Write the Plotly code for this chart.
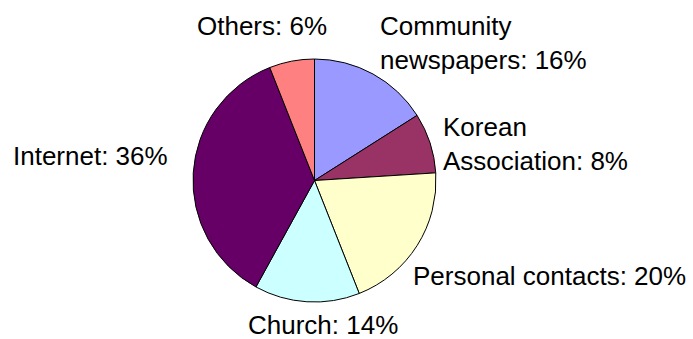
import plotly.graph_objects as go

# Sources of information, share of respondents (%)
sources = ["Community newspapers", "Korean Association", "Personal contacts",
           "Church", "Internet", "Others"]
shares = [16, 8, 20, 14, 36, 6]
label_texts = ["Community<br>newspapers: 16%", "Korean<br>Association: 8%",
               "Personal contacts: 20%", "Church: 14%", "Internet: 36%", "Others: 6%"]

colors = ["#9999FF", "#993366", "#FFFFCC", "#CCFFFF", "#660066", "#FF8080"]

W, H = 693, 339

# label placement in pixels: (x, y, xanchor)
label_layout = [
    (378, 43, "left"),
    (441, 144, "left"),
    (411, 276, "left"),
    (322.5, 325, "center"),
    (11, 156, "left"),
    (261.5, 26, "center"),
]

cx, cy, r = 314.5, 180.5, 121.5

fig = go.Figure(go.Pie(
    labels=sources,
    values=shares,
    sort=False,
    direction="clockwise",
    rotation=0,
    marker=dict(colors=colors, line=dict(color="#000000", width=1)),
    textinfo="none",
    hoverinfo="label+percent",
    showlegend=False,
    domain=dict(x=[(cx - r) / W, (cx + r) / W],
                y=[(H - cy - r) / H, (H - cy + r) / H]),
))

for text, (px, py, xa) in zip(label_texts, label_layout):
    fig.add_annotation(
        x=px / W, y=1 - py / H, xref="paper", yref="paper",
        text=text, showarrow=False, xanchor=xa, yanchor="middle", align="left",
        font=dict(family="Liberation Sans, Arial, sans-serif", size=26, color="#000000"),
    )

fig.update_layout(
    width=W, height=H,
    margin=dict(l=0, r=0, t=0, b=0),
    paper_bgcolor="#FFFFFF",
    plot_bgcolor="#FFFFFF",
)

fig.write_html("out.html")
